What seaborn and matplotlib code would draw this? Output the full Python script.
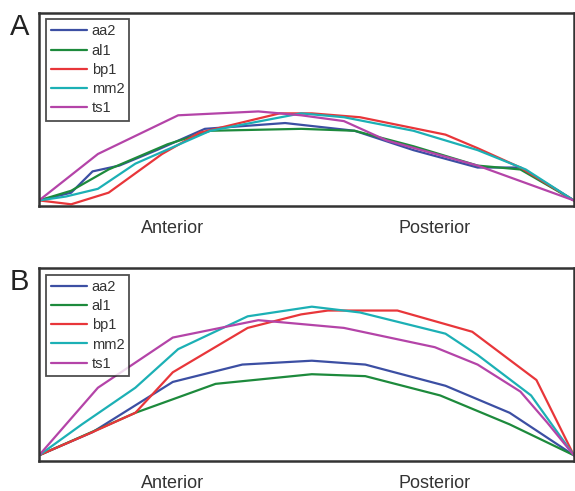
import numpy as np
import pandas as pd
import matplotlib
matplotlib.use('Agg')
import matplotlib.pyplot as plt
import seaborn as sns

genes = ['aa2', 'al1', 'bp1', 'mm2', 'ts1']
colors = ['#3c4fa3', '#1d8a3c', '#e8363a', '#1cb0b5', '#b444a8']

# panel A (x = position along A-P axis, y = relative level)
a_aa2_x = [0, 6, 10, 15, 22, 31, 46, 59, 70, 82, 90, 100]
a_aa2_y = [3, 7, 18, 21, 29, 40, 43, 39, 29, 20, 20, 3]
a_al1_x = [0, 6, 13, 24, 32, 49, 59, 70, 82, 90, 100]
a_al1_y = [3, 8, 19, 32, 39, 40, 39, 31, 21, 19, 3]
a_bp1_x = [0, 6, 13, 23, 30, 45, 51, 60, 76, 82, 90, 100]
a_bp1_y = [3, 1, 7, 27, 38, 48, 48, 46, 37, 30, 20, 3]
a_mm2_x = [0, 5, 11, 18, 32, 49, 57, 70, 82, 91, 100]
a_mm2_y = [3, 5, 9, 22, 39, 48, 46, 39, 29, 19, 3]
a_ts1_x = [0, 11, 26, 41, 49, 57, 65, 82, 90, 100]
a_ts1_y = [3, 27, 47, 49, 47, 44, 34, 21, 13, 3]

# panel B
b_aa2_x = [0, 10, 25, 38, 51, 61, 76, 88, 100]
b_aa2_y = [3, 15, 41, 50, 52, 50, 39, 25, 3]
b_al1_x = [0, 18, 33, 51, 61, 75, 88, 100]
b_al1_y = [3, 25, 40, 45, 44, 34, 19, 3]
b_bp1_x = [0, 10, 18, 25, 39, 49, 54, 67, 81, 93, 100]
b_bp1_y = [3, 15, 25, 46, 69, 76, 78, 78, 67, 42, 3]
b_mm2_x = [0, 8, 18, 26, 39, 51, 60, 76, 82, 92, 100]
b_mm2_y = [3, 19, 38, 58, 75, 80, 77, 66, 55, 34, 3]
b_ts1_x = [0, 11, 25, 41, 45, 57, 74, 82, 90, 95, 100]
b_ts1_y = [3, 38, 64, 73, 72, 69, 59, 50, 36, 20, 3]

tick_pos = [25, 74]
tick_labels = ['Anterior', 'Posterior']


def make_df(xs, ys):
    rows = []
    for g, x, y in zip(genes, xs, ys):
        for xi, yi in zip(x, y):
            rows.append((g, xi, yi))
    return pd.DataFrame(rows, columns=['gene', 'pos', 'level'])


dfA = make_df([a_aa2_x, a_al1_x, a_bp1_x, a_mm2_x, a_ts1_x],
              [a_aa2_y, a_al1_y, a_bp1_y, a_mm2_y, a_ts1_y])
dfB = make_df([b_aa2_x, b_al1_x, b_bp1_x, b_mm2_x, b_ts1_x],
              [b_aa2_y, b_al1_y, b_bp1_y, b_mm2_y, b_ts1_y])

sns.set_style('white')
plt.rcParams['font.family'] = ['Liberation Sans', 'DejaVu Sans']

fig = plt.figure(figsize=(5.75, 4.91), dpi=100)
axA = fig.add_axes([0.068, 0.580, 0.930, 0.394])
axB = fig.add_axes([0.068, 0.061, 0.930, 0.393])

for ax, df, letter in [(axA, dfA, 'A'), (axB, dfB, 'B')]:
    sns.lineplot(data=df, x='pos', y='level', hue='gene', hue_order=genes,
                 palette=colors, estimator=None, sort=True, linewidth=1.6, ax=ax)
    ax.set_xlim(0, 100)
    ax.set_ylim(0, 100)
    ax.set_yticks([])
    ax.set_xticks(tick_pos)
    ax.set_xticklabels(tick_labels, fontsize=13, color='#333333')
    ax.tick_params(axis='x', length=0, pad=10)
    ax.set_xlabel('')
    ax.set_ylabel('')
    for s in ax.spines.values():
        s.set_color('#333333')
        s.set_linewidth(1.8)
    leg = ax.legend(loc='upper left', fontsize=10.5, frameon=True, fancybox=False,
                    handlelength=2.5, handletextpad=0.3, labelspacing=0.36,
                    borderpad=0.35, borderaxespad=0.45)
    leg.get_frame().set_edgecolor('#222222')
    leg.get_frame().set_linewidth(1.3)
    for t in leg.get_texts():
        t.set_color('#333333')
    ax.text(-0.055, 1.0, letter, transform=ax.transAxes, fontsize=21,
            va='top', ha='left', color='#222222')

fig.savefig('out.png', dpi=100)
